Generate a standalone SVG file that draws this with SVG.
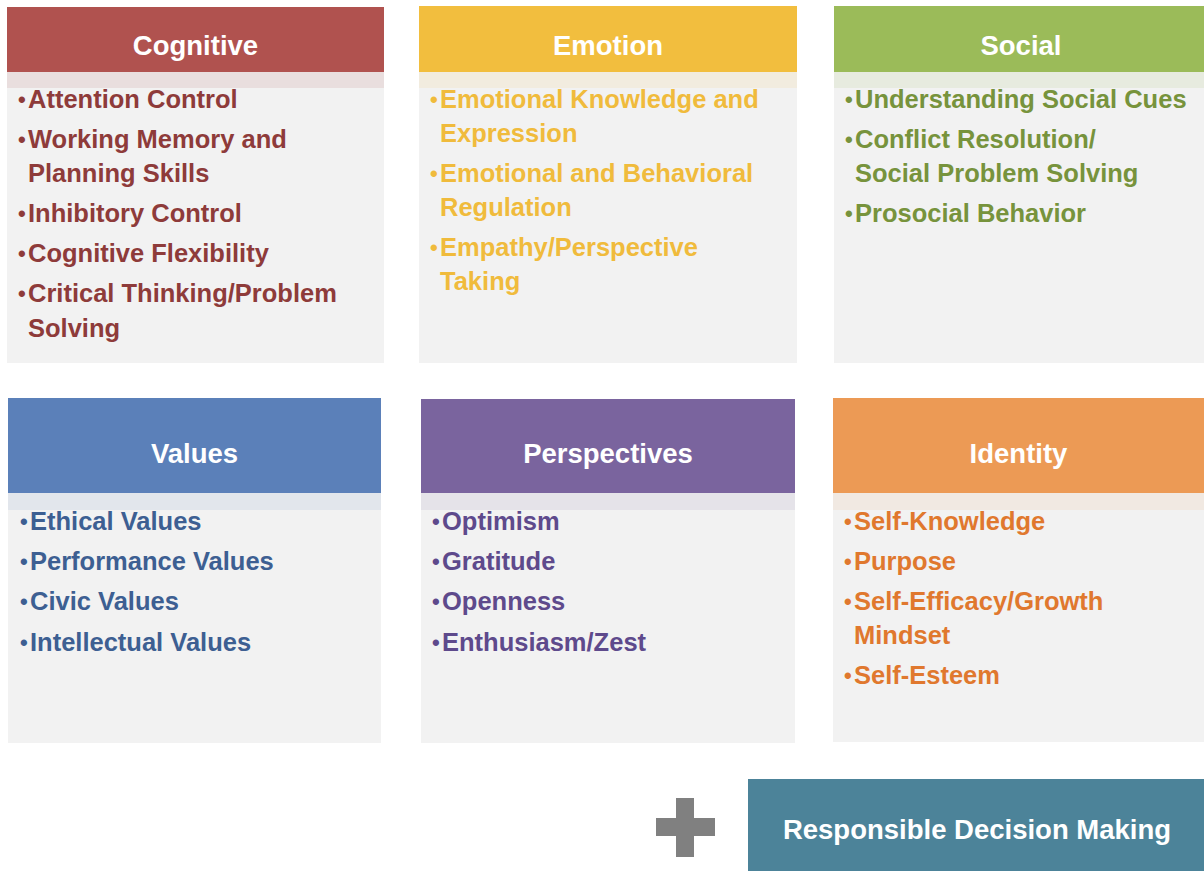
<svg xmlns="http://www.w3.org/2000/svg" width="1204" height="871" viewBox="0 0 1204 871">
<style>
text{font-family:"Liberation Sans",Arial,sans-serif;font-weight:bold}
.h{fill:#fff;font-size:27.5px;text-anchor:middle}
.i{font-size:25.5px}
.b{font-size:22px}
.body{fill:#f2f2f2}
.cog{fill:#8e3b3a}.emo{fill:#f0bb3c}.soc{fill:#77933c}.val{fill:#3d5f92}.per{fill:#5e4a8c}.ide{fill:#e0782e}
</style>
<rect width="1204" height="871" fill="#fff"/>

<g id="cognitive">
<rect class="body" x="7" y="7" width="377" height="356"/>
<rect x="7" y="72" width="377" height="16" fill="#b0524f" opacity="0.12"/>
<rect x="7" y="7" width="377" height="65" fill="#b0524f"/>
<text class="h" x="195.5" y="55">Cognitive</text>
<text class="i cog"><tspan class="b" x="18" y="107">•</tspan><tspan x="28" y="108">Attention Control</tspan><tspan class="b" x="18" y="147">•</tspan><tspan x="28" y="148">Working Memory and</tspan><tspan x="28" y="182">Planning Skills</tspan><tspan class="b" x="18" y="221">•</tspan><tspan x="28" y="222">Inhibitory Control</tspan><tspan class="b" x="18" y="261">•</tspan><tspan x="28" y="262">Cognitive Flexibility</tspan><tspan class="b" x="18" y="301">•</tspan><tspan x="28" y="302">Critical Thinking/Problem</tspan><tspan x="28" y="337">Solving</tspan></text>
</g>

<g id="emotion">
<rect class="body" x="419" y="6" width="378" height="357"/>
<rect x="419" y="72" width="378" height="16" fill="#f2be3e" opacity="0.1"/>
<rect x="419" y="6" width="378" height="66" fill="#f2be3e"/>
<text class="h" x="608" y="55">Emotion</text>
<text class="i emo"><tspan class="b" x="430" y="107">•</tspan><tspan x="440" y="108">Emotional Knowledge and</tspan><tspan x="440" y="142">Expression</tspan><tspan class="b" x="430" y="181">•</tspan><tspan x="440" y="182">Emotional and Behavioral</tspan><tspan x="440" y="216">Regulation</tspan><tspan class="b" x="430" y="255">•</tspan><tspan x="440" y="256">Empathy/Perspective</tspan><tspan x="440" y="290">Taking</tspan></text>
</g>

<g id="social">
<rect class="body" x="834" y="6" width="370" height="357"/>
<rect x="834" y="72" width="370" height="16" fill="#9bbb59" opacity="0.12"/>
<rect x="834" y="6" width="370" height="66" fill="#9bbb59"/>
<text class="h" x="1021" y="55">Social</text>
<text class="i soc"><tspan class="b" x="845" y="107">•</tspan><tspan x="855" y="108">Understanding Social Cues</tspan><tspan class="b" x="845" y="147">•</tspan><tspan x="855" y="148">Conflict Resolution/</tspan><tspan x="855" y="182">Social Problem Solving</tspan><tspan class="b" x="845" y="221">•</tspan><tspan x="855" y="222">Prosocial Behavior</tspan></text>
</g>

<g id="values">
<rect class="body" x="8" y="398" width="373" height="345"/>
<rect x="8" y="493" width="373" height="17" fill="#5b80b9" opacity="0.1"/>
<rect x="8" y="398" width="373" height="95" fill="#5b80b9"/>
<text class="h" x="194.5" y="463">Values</text>
<text class="i val"><tspan class="b" x="20" y="529">•</tspan><tspan x="30" y="530">Ethical Values</tspan><tspan class="b" x="20" y="569">•</tspan><tspan x="30" y="570">Performance Values</tspan><tspan class="b" x="20" y="609">•</tspan><tspan x="30" y="610">Civic Values</tspan><tspan class="b" x="20" y="650">•</tspan><tspan x="30" y="651">Intellectual Values</tspan></text>
</g>

<g id="perspectives">
<rect class="body" x="421" y="399" width="374" height="344"/>
<rect x="421" y="493" width="374" height="17" fill="#7a649e" opacity="0.1"/>
<rect x="421" y="399" width="374" height="94" fill="#7a649e"/>
<text class="h" x="608" y="463">Perspectives</text>
<text class="i per"><tspan class="b" x="432" y="529">•</tspan><tspan x="442" y="530">Optimism</tspan><tspan class="b" x="432" y="569">•</tspan><tspan x="442" y="570">Gratitude</tspan><tspan class="b" x="432" y="609">•</tspan><tspan x="442" y="610">Openness</tspan><tspan class="b" x="432" y="650">•</tspan><tspan x="442" y="651">Enthusiasm/Zest</tspan></text>
</g>

<g id="identity">
<rect class="body" x="833" y="398" width="371" height="344"/>
<rect x="833" y="493" width="371" height="17" fill="#ec9a55" opacity="0.1"/>
<rect x="833" y="398" width="371" height="95" fill="#ec9a55"/>
<text class="h" x="1018.5" y="463">Identity</text>
<text class="i ide"><tspan class="b" x="844" y="529">•</tspan><tspan x="854" y="530">Self-Knowledge</tspan><tspan class="b" x="844" y="569">•</tspan><tspan x="854" y="570">Purpose</tspan><tspan class="b" x="844" y="609">•</tspan><tspan x="854" y="610">Self-Efficacy/Growth</tspan><tspan x="854" y="644">Mindset</tspan><tspan class="b" x="844" y="683">•</tspan><tspan x="854" y="684">Self-Esteem</tspan></text>
</g>

<g id="plus">
<rect x="656" y="818" width="59" height="18" fill="#808080"/>
<rect x="676" y="798" width="18" height="59" fill="#808080"/>
</g>

<g id="responsible-decision-making">
<rect x="748" y="779" width="456" height="92" fill="#4c8399"/>
<text class="h" x="977" y="839">Responsible Decision Making</text>
</g>

<g id="connectors"></g>
</svg>
